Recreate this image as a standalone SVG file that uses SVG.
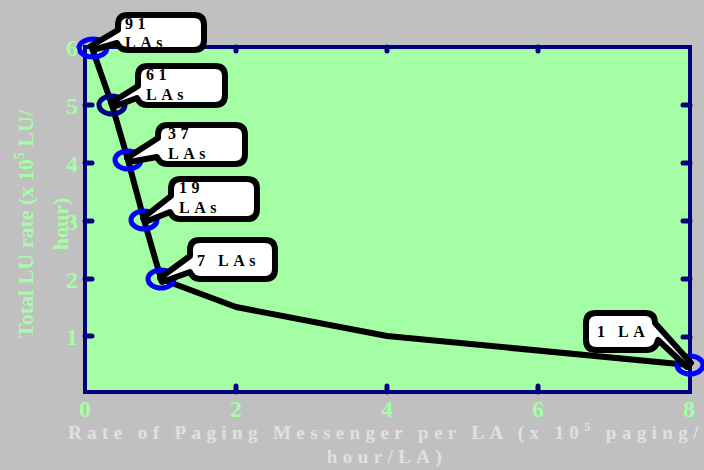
<svg xmlns="http://www.w3.org/2000/svg" width="704" height="470" viewBox="0 0 704 470">
<style>
.tick{stroke:#000080;stroke-width:5;stroke-linecap:round}
.tl{font-family:"Liberation Serif",serif;font-weight:bold;font-size:24px;fill:#a4ffa4;text-anchor:middle}
.yl{font-family:"Liberation Serif",serif;font-weight:bold;font-size:22px;fill:#a4ffa4;text-anchor:middle}
.xl{font-family:"Liberation Serif",serif;font-weight:bold;font-size:19px;fill:#e0e0e0;letter-spacing:5.4px}
.mk{fill:none;stroke:#0000ff;stroke-width:5}
.co{fill:#ffffff;stroke:#000000;stroke-width:6;stroke-linejoin:round}
.ct{font-family:"Liberation Serif",serif;font-weight:bold;font-size:16px;fill:#000000;letter-spacing:4.5px}
</style>
<rect x="0" y="0" width="704" height="470" fill="#c0c0c0"/>
<g id="plot">
<rect x="85" y="47" width="605" height="345" fill="#a4ffa4" stroke="#000080" stroke-width="4"/>
<g id="ticks">
<line class="tick" x1="236" y1="386" x2="236" y2="392"/>
<line class="tick" x1="387" y1="386" x2="387" y2="392"/>
<line class="tick" x1="538" y1="386" x2="538" y2="392"/>
<line class="tick" x1="236" y1="47" x2="236" y2="51"/>
<line class="tick" x1="387" y1="47" x2="387" y2="51"/>
<line class="tick" x1="538" y1="47" x2="538" y2="51"/>
<line class="tick" x1="85" y1="105" x2="92" y2="105"/>
<line class="tick" x1="85" y1="163" x2="92" y2="163"/>
<line class="tick" x1="85" y1="221" x2="92" y2="221"/>
<line class="tick" x1="85" y1="279" x2="92" y2="279"/>
<line class="tick" x1="85" y1="336" x2="92" y2="336"/>
<line class="tick" x1="683" y1="105" x2="690" y2="105"/>
<line class="tick" x1="683" y1="163" x2="690" y2="163"/>
<line class="tick" x1="683" y1="221" x2="690" y2="221"/>
<line class="tick" x1="683" y1="279" x2="690" y2="279"/>
<line class="tick" x1="683" y1="337" x2="690" y2="337"/>
</g>
</g>
<g id="connectors">
<polyline points="92,48 112,105 128,160 144,220 161,279 236,307 387,336 689,365" fill="none" stroke="#000000" stroke-width="6" stroke-linejoin="round"/>
</g>
<g id="markers">
<ellipse class="mk" cx="93" cy="48" rx="14" ry="9"/>
<ellipse class="mk" cx="112" cy="105" rx="13" ry="9" style="stroke:#000080"/>
<ellipse class="mk" cx="128" cy="160" rx="13" ry="9"/>
<ellipse class="mk" cx="144" cy="220" rx="13" ry="9"/>
<ellipse class="mk" cx="161" cy="279" rx="13" ry="9"/>
<ellipse class="mk" cx="690" cy="365" rx="13" ry="9"/>
</g>
<g id="c91">
<path class="co" d="M128,15 H194 Q204,15 204,25 V40 Q204,50 194,50 H128 Q120,50 117,43 L93,50 L91,46 L118,30 V25 Q118,15 128,15 Z"/>
<text class="ct" x="125" y="29">91</text>
<text class="ct" x="125" y="48">LAs</text>
</g>
<g id="c61">
<path class="co" d="M148,66 H215 Q225,66 225,76 V95 Q225,105 215,105 H147 Q140,105 137,98 L113,107 L111,103 L138,86 V76 Q138,66 148,66 Z"/>
<text class="ct" x="146" y="80">61</text>
<text class="ct" x="146" y="100">LAs</text>
</g>
<g id="c37">
<path class="co" d="M168,125 H235 Q245,125 245,135 V154 Q245,164 235,164 H167 Q160,164 157,157 L129,162 L127,158 L158,138 V135 Q158,125 168,125 Z"/>
<text class="ct" x="168" y="139">37</text>
<text class="ct" x="168" y="159">LAs</text>
</g>
<g id="c19">
<path class="co" d="M181,179 H247 Q257,179 257,189 V209 Q257,219 247,219 H180 Q173,219 170,212 L145,222 L143,218 L171,196 V189 Q171,179 181,179 Z"/>
<text class="ct" x="179" y="193">19</text>
<text class="ct" x="179" y="213">LAs</text>
</g>
<g id="c7">
<path class="co" d="M200,240 H265 Q275,240 275,250 V269 Q275,279 265,279 H200 Q193,279 190,272 L162,282 L160,278 L190,256 V250 Q190,240 200,240 Z"/>
<text class="ct" x="197" y="266">7 LAs</text>
</g>
<g id="c1">
<path class="co" d="M596,313 H645 Q655,313 655,323 L691,363 L687,367 L658,340 Q656,350 646,350 H596 Q586,350 586,340 V323 Q586,313 596,313 Z"/>
<text class="ct" x="597" y="337">1 LA</text>
</g>
<g id="xticklabels">
<text class="tl" x="85" y="417">0</text>
<text class="tl" x="236" y="417">2</text>
<text class="tl" x="387" y="417">4</text>
<text class="tl" x="538" y="417">6</text>
<text class="tl" x="689" y="417">8</text>
</g>
<g id="yticklabels">
<text class="tl" x="72" y="56">6</text>
<text class="tl" x="72" y="114">5</text>
<text class="tl" x="72" y="172">4</text>
<text class="tl" x="72" y="230">3</text>
<text class="tl" x="72" y="288">2</text>
<text class="tl" x="72" y="345">1</text>
</g>
<g id="ylabel">
<text class="yl" transform="translate(33,224) rotate(-90)">Total LU rate (x 10<tspan font-size="14" dy="-9">5</tspan><tspan dy="9"> LU/</tspan></text>
<text class="yl" transform="translate(68,224) rotate(-90)">hour)</text>
</g>
<g id="xlabel">
<text class="xl" x="68" y="439">Rate of Paging Messenger per LA (x 10<tspan font-size="12" dy="-8">5</tspan><tspan dy="8"> paging/</tspan></text>
<text class="xl" x="387" y="463" text-anchor="middle">hour/LA)</text>
</g>
</svg>
